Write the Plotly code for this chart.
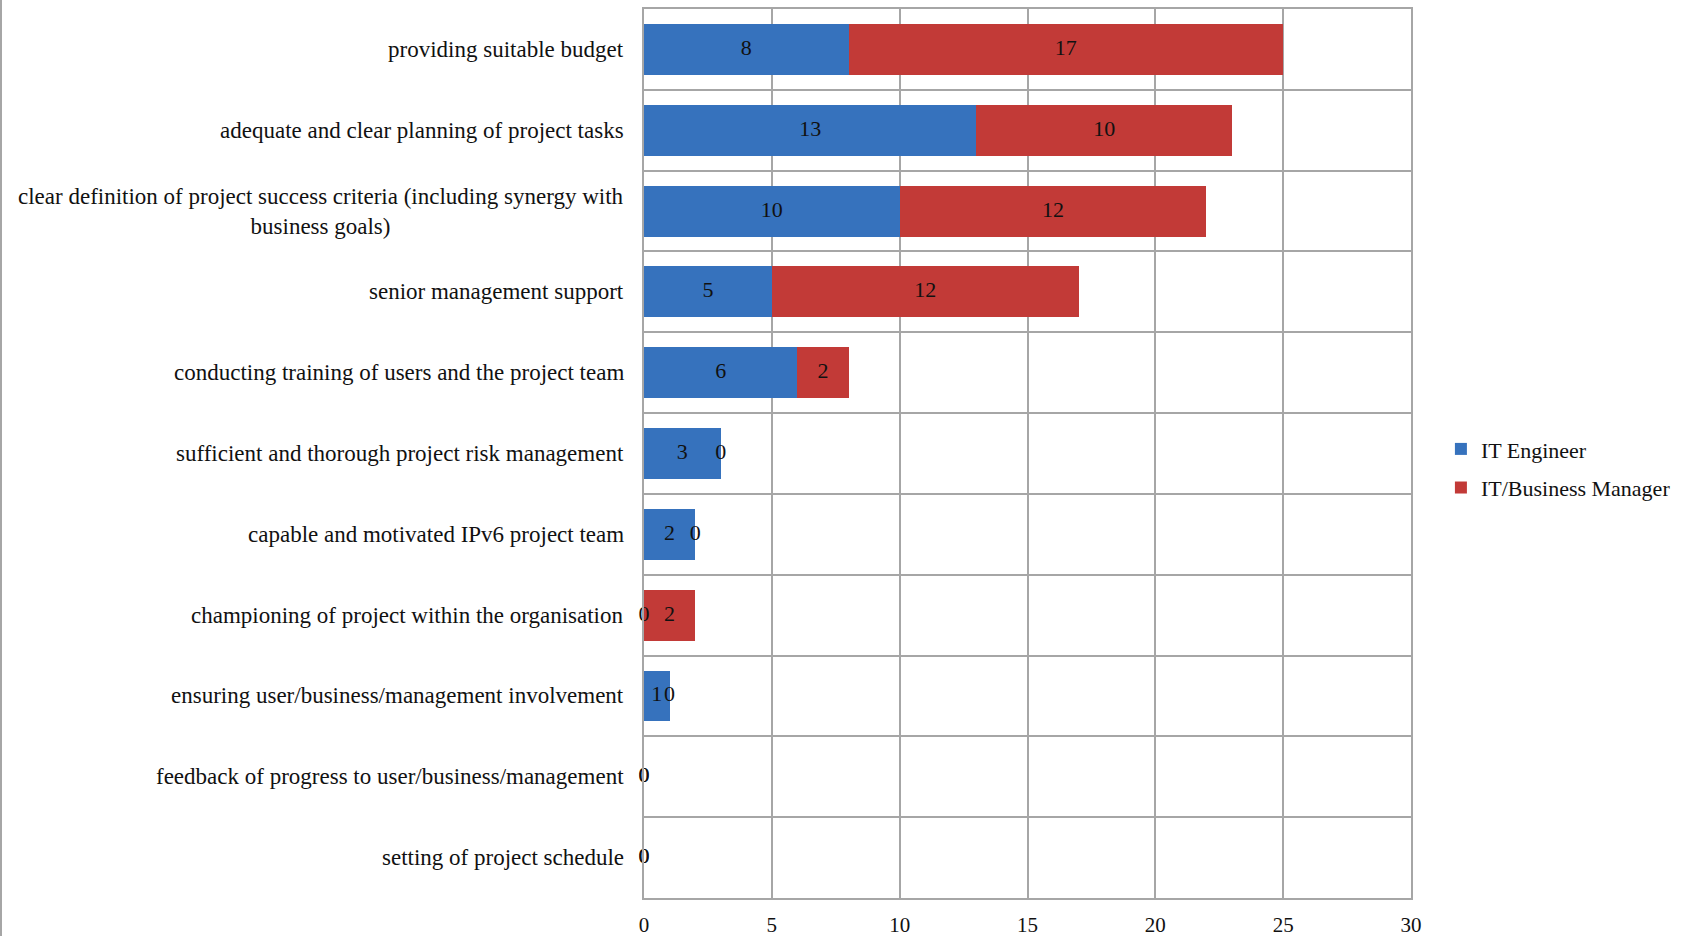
import plotly.graph_objects as go

# Factors listed top to bottom
categories = [
    "providing suitable budget",
    "adequate and clear planning of project tasks",
    "clear definition of project success criteria (including synergy with business goals)",
    "senior management support",
    "conducting training of users and the project team",
    "sufficient and thorough project risk management",
    "capable and motivated IPv6 project team",
    "championing of project within the organisation",
    "ensuring user/business/management involvement",
    "feedback of progress to user/business/management",
    "setting of project schedule",
]
display_labels = [
    "providing suitable budget",
    "adequate and clear planning of project tasks",
    "clear definition of project success criteria (including synergy with<br>business goals)",
    "senior management support",
    "conducting training of users and the project team",
    "sufficient and thorough project risk management",
    "capable and motivated IPv6 project team",
    "championing of project within the organisation",
    "ensuring user/business/management involvement",
    "feedback of progress to user/business/management",
    "setting of project schedule",
]
it_engineer = [8, 13, 10, 5, 6, 3, 2, 0, 1, 0, 0]
it_business_manager = [17, 10, 12, 12, 2, 0, 0, 2, 0, 0, 0]
x_ticks = [0, 5, 10, 15, 20, 25, 30]

BLUE = "#3672bd"
RED = "#c23a37"
FONT = "Liberation Serif"
TEXT_COLOR = "#111111"
GRID = "#a6a6a6"

fig = go.Figure()
fig.add_trace(go.Bar(
    y=categories, x=it_engineer, orientation="h", name="IT Engineer",
    legendgroup="eng", marker=dict(color=BLUE, line=dict(width=0)), width=0.63,
))
fig.add_trace(go.Bar(
    y=categories, x=it_business_manager, orientation="h", name="IT/Business Manager",
    legendgroup="mgr", marker=dict(color=RED, line=dict(width=0)), width=0.63,
))

# Segment value labels placed at the middle of each stacked segment
lab_x, lab_y, lab_t = [], [], []
for cat, a, b in zip(categories, it_engineer, it_business_manager):
    lab_x += [a / 2, a + b / 2]
    lab_y += [cat, cat]
    lab_t += [str(a), str(b)]
fig.add_trace(go.Scatter(
    x=lab_x, y=lab_y, text=lab_t, mode="text", showlegend=False,
    cliponaxis=False, hoverinfo="skip",
    textfont=dict(family=FONT, size=22, color=TEXT_COLOR),
))

# Category labels, centred line by line
for cat, lab in zip(categories, display_labels):
    fig.add_annotation(
        x=0, xref="paper", xshift=-18, y=cat, yref="y",
        text=lab, showarrow=False, xanchor="right", yanchor="middle",
        align="center", font=dict(family=FONT, size=23, color=TEXT_COLOR),
    )

# Outer frame line on the left edge of the figure
fig.add_shape(type="line", xref="paper", yref="paper",
              x0=-643 / 767, x1=-643 / 767, y0=-0.1, y1=1.1,
              line=dict(color=GRID, width=2))

n = len(categories)
fig.update_layout(
    width=1683, height=936,
    margin=dict(l=644, r=272, t=9, b=38, autoexpand=False),
    barmode="stack",
    paper_bgcolor="white", plot_bgcolor="white",
    font=dict(family=FONT, size=21, color=TEXT_COLOR),
    legend=dict(
        x=1.039, y=0.483, xanchor="left", yanchor="middle",
        traceorder="grouped", tracegroupgap=7,
        font=dict(family=FONT, size=22, color=TEXT_COLOR),
        itemwidth=30,
    ),
    xaxis=dict(
        range=[0, 30], tickvals=x_ticks, showgrid=True,
        gridcolor=GRID, gridwidth=1.5, automargin=False,
        showline=True, linecolor=GRID, linewidth=1.5, mirror=True,
        ticks="", ticklabelstandoff=7, zeroline=False,
        tickfont=dict(family=FONT, size=21, color=TEXT_COLOR),
    ),
    yaxis=dict(
        type="category", categoryorder="array", categoryarray=categories,
        range=[n - 0.5, -0.5], tickson="boundaries", automargin=False,
        showgrid=True, gridcolor=GRID, gridwidth=1.5,
        showline=True, linecolor=GRID, linewidth=1.5, mirror=True,
        ticks="", showticklabels=False,
    ),
)

fig.write_html("out.html")
